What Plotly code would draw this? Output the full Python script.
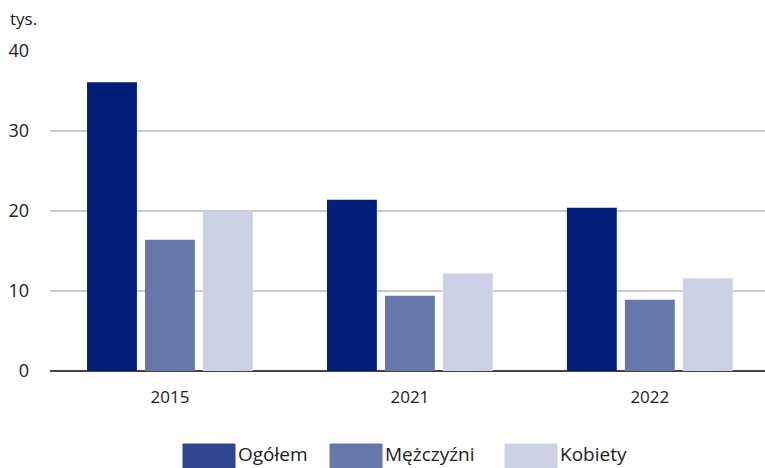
import plotly.graph_objects as go

years = ["2015", "2021", "2022"]
series_names = ["Ogółem", "Mężczyźni", "Kobiety"]
ogolem = [36.1, 21.4, 20.4]
mezczyzni = [16.4, 9.4, 8.9]
kobiety = [20.0, 12.2, 11.6]
y_ticks = [0, 10, 20, 30, 40]
unit_label = "tys."

colors = ["#001e78", "#6677aa", "#ccd2e6"]
legend_colors = ["#2f4590", "#6677aa", "#ccd2e6"]
values = [ogolem, mezczyzni, kobiety]

FONT = "Open Sans"

fig = go.Figure()
for name, vals, col in zip(series_names, values, colors):
    fig.add_trace(go.Bar(x=years, y=vals, name=name, marker_color=col,
                         marker_line_width=0, showlegend=False))

fig.update_layout(
    width=765, height=468,
    margin=dict(l=50, r=0, t=51, b=97, autoexpand=False),
    paper_bgcolor="white", plot_bgcolor="white",
    barmode="group", bargap=0.275, bargroupgap=0.14,
    font=dict(family=FONT, size=18, color="#222222"),
    xaxis=dict(range=[-0.5, 2.48], showgrid=False, showline=False,
               ticks="", tickfont=dict(size=17), ticklabelstandoff=14,
               automargin=False),
    yaxis=dict(range=[0, 40], tickvals=y_ticks, showgrid=True,
               gridcolor="#cccccc", gridwidth=2, zeroline=True,
               zerolinecolor="#444444", zerolinewidth=2,
               ticks="", tickfont=dict(size=18), ticklabelstandoff=20,
               showline=False, automargin=False),
)

fig.add_annotation(xref="paper", yref="paper", x=-42/715, y=1 + 33/320,
                   xanchor="left", yanchor="middle", text=unit_label,
                   showarrow=False, font=dict(size=17, family=FONT))

# custom legend (wide swatches)
leg_x = [183, 330, 505]
for name, col, lx in zip(series_names, legend_colors, leg_x):
    fig.add_shape(type="rect", xref="paper", yref="paper",
                  x0=(lx - 50) / 715, x1=(lx + 52 - 50) / 715,
                  y0=-(444 - 371) / 320, y1=-(470 - 371) / 320,
                  fillcolor=col, line=dict(width=1, color=col))
    fig.add_annotation(xref="paper", yref="paper",
                       x=(lx + 53 - 50) / 715, y=-(454 - 371) / 320,
                       xanchor="left", yanchor="middle", text=name,
                       showarrow=False, font=dict(size=19, family=FONT))

fig.write_html("out.html", config={"displayModeBar": False},
               post_script="document.body.style.margin='0';document.body.style.overflow='hidden';")
